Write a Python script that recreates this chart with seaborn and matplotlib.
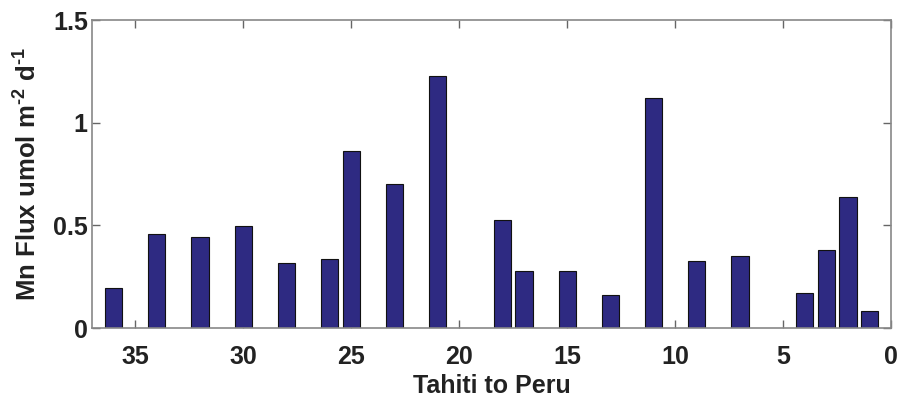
import matplotlib
matplotlib.use("Agg")
import matplotlib.pyplot as plt
import seaborn as sns
import pandas as pd

stations = [36, 34, 32, 30, 28, 26, 25, 23, 21, 18, 17, 15, 13, 11, 9, 7, 4, 3, 2, 1]
mn_flux = [0.193, 0.456, 0.445, 0.498, 0.315, 0.334, 0.864, 0.701, 1.226,
           0.524, 0.276, 0.276, 0.159, 1.122, 0.328, 0.349, 0.169, 0.381, 0.637, 0.083]
xticks = [35, 30, 25, 20, 15, 10, 5, 0]
yticks = [0, 0.5, 1, 1.5]
ytick_labels = ["0", "0.5", "1", "1.5"]

df = pd.DataFrame({"station": stations, "flux": mn_flux})

sns.set_style("white")
plt.rcParams["font.family"] = ["Liberation Sans", "DejaVu Sans"]
plt.rcParams["font.weight"] = "bold"
plt.rcParams["mathtext.fontset"] = "custom"
plt.rcParams["mathtext.rm"] = "Liberation Sans:bold"
plt.rcParams["mathtext.bf"] = "Liberation Sans:bold"
plt.rcParams["mathtext.it"] = "Liberation Sans:bold"
plt.rcParams["mathtext.default"] = "bf"

fig = plt.figure(figsize=(8.99, 4.01), dpi=100)
ax = fig.add_axes([0.1023, 0.182, 0.889, 0.768])

sns.barplot(data=df, x="station", y="flux", native_scale=True, width=0.8,
            color="#2E2A82", saturation=1, edgecolor="#111111", linewidth=0.8, ax=ax)

ax.set_xlim(37, 0)
ax.set_ylim(0, 1.5)
ax.set_xticks(xticks)
ax.set_xticklabels([str(t) for t in xticks])
ax.set_yticks(yticks)
ax.set_yticklabels(ytick_labels)

for s in ax.spines.values():
    s.set_visible(True)
    s.set_color("#888888")
    s.set_linewidth(1.2)

ax.tick_params(axis="both", which="both", direction="in", length=6, width=1,
               color="#666666", top=True, right=True, bottom=True, left=True,
               labelsize=18)
ax.tick_params(axis="x", pad=12)
ax.tick_params(axis="y", pad=3)
for lbl in ax.get_xticklabels() + ax.get_yticklabels():
    lbl.set_fontweight("bold")
    lbl.set_color("#222222")

ax.set_xlabel("Tahiti to Peru", fontsize=18, fontweight="bold", color="#222222", labelpad=4)
ax.set_ylabel("Mn Flux umol m$^{\\text{-2}}$ d$^{\\text{-1}}$", fontsize=18.5,
              fontweight="bold", color="#222222", labelpad=8)

fig.savefig("out.png", dpi=100)
